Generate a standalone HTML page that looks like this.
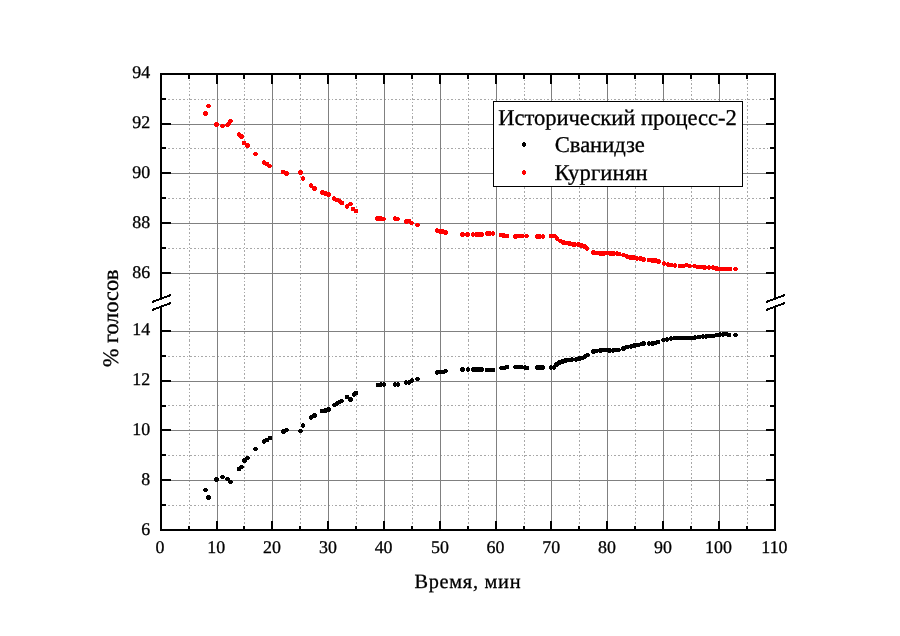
<!DOCTYPE html><html><head><meta charset="utf-8"><style>html,body{margin:0;padding:0;background:#fff;overflow:hidden;width:900px;height:636px}svg{display:block;will-change:transform}text{font-family:"Liberation Serif",serif;fill:#000;text-rendering:geometricPrecision;stroke:#000;stroke-width:0.3px}</style></head><body>
<svg width="900" height="636" viewBox="0 0 900 636">
<rect width="900" height="636" fill="#fff"/>
<g shape-rendering="crispEdges" stroke="#a8a8a8" stroke-width="1" stroke-dasharray="2.027 2.027 2.027 2.027 1.014 2.027" fill="none">
<line x1="189.5" y1="75" x2="189.5" y2="529" stroke-dashoffset="3.1"/>
<line x1="244.5" y1="75" x2="244.5" y2="529" stroke-dashoffset="3.1"/>
<line x1="300.5" y1="75" x2="300.5" y2="529" stroke-dashoffset="3.1"/>
<line x1="356.5" y1="75" x2="356.5" y2="529" stroke-dashoffset="3.1"/>
<line x1="412.5" y1="75" x2="412.5" y2="529" stroke-dashoffset="3.1"/>
<line x1="468.5" y1="75" x2="468.5" y2="529" stroke-dashoffset="3.1"/>
<line x1="524.5" y1="75" x2="524.5" y2="529" stroke-dashoffset="3.1"/>
<line x1="579.5" y1="75" x2="579.5" y2="529" stroke-dashoffset="3.1"/>
<line x1="635.5" y1="75" x2="635.5" y2="529" stroke-dashoffset="3.1"/>
<line x1="691.5" y1="75" x2="691.5" y2="529" stroke-dashoffset="3.1"/>
<line x1="747.5" y1="75" x2="747.5" y2="529" stroke-dashoffset="3.1"/>
<line x1="162" y1="99.5" x2="774" y2="99.5" stroke-dashoffset="5.26"/>
<line x1="162" y1="148.5" x2="774" y2="148.5" stroke-dashoffset="5.26"/>
<line x1="162" y1="198.5" x2="774" y2="198.5" stroke-dashoffset="5.26"/>
<line x1="162" y1="248.5" x2="774" y2="248.5" stroke-dashoffset="5.26"/>
<line x1="162" y1="356.5" x2="774" y2="356.5" stroke-dashoffset="5.26"/>
<line x1="162" y1="405.5" x2="774" y2="405.5" stroke-dashoffset="5.26"/>
<line x1="162" y1="455.5" x2="774" y2="455.5" stroke-dashoffset="5.26"/>
<line x1="162" y1="505.5" x2="774" y2="505.5" stroke-dashoffset="5.26"/>
</g>
<g shape-rendering="crispEdges" fill="#808080">
<rect x="217" y="75" width="1" height="454"/>
<rect x="272" y="75" width="1" height="454"/>
<rect x="328" y="75" width="1" height="454"/>
<rect x="384" y="75" width="1" height="454"/>
<rect x="440" y="75" width="1" height="454"/>
<rect x="496" y="75" width="1" height="454"/>
<rect x="551" y="75" width="1" height="454"/>
<rect x="607" y="75" width="1" height="454"/>
<rect x="663" y="75" width="1" height="454"/>
<rect x="719" y="75" width="1" height="454"/>
<rect x="162" y="124" width="612" height="1"/>
<rect x="162" y="173" width="612" height="1"/>
<rect x="162" y="223" width="612" height="1"/>
<rect x="162" y="273" width="612" height="1"/>
<rect x="162" y="331" width="612" height="1"/>
<rect x="162" y="381" width="612" height="1"/>
<rect x="162" y="430" width="612" height="1"/>
<rect x="162" y="480" width="612" height="1"/>
</g>
<g fill="#f00" shape-rendering="crispEdges"><circle cx="208.5" cy="106.0" r="2.4"/><circle cx="205.5" cy="113.5" r="2.4"/><circle cx="216.5" cy="124.5" r="2.4"/><circle cx="222.5" cy="126.0" r="2.4"/><circle cx="227.5" cy="125.0" r="2.4"/><circle cx="230.5" cy="121.0" r="2.4"/><circle cx="229.0" cy="123.5" r="2.4"/><circle cx="239.0" cy="134.5" r="2.4"/><circle cx="241.5" cy="136.5" r="2.4"/><circle cx="244.0" cy="143.0" r="2.4"/><circle cx="247.5" cy="145.5" r="2.4"/><circle cx="255.5" cy="154.0" r="2.4"/><circle cx="264.0" cy="162.5" r="2.4"/><circle cx="267.0" cy="164.0" r="2.4"/><circle cx="269.5" cy="166.0" r="2.4"/><circle cx="283.0" cy="172.0" r="2.4"/><circle cx="286.5" cy="173.5" r="2.4"/><circle cx="300.5" cy="172.5" r="2.4"/><circle cx="303.0" cy="178.5" r="2.4"/><circle cx="311.0" cy="185.5" r="2.4"/><circle cx="314.5" cy="188.5" r="2.4"/><circle cx="322.5" cy="192.5" r="2.4"/><circle cx="325.5" cy="193.5" r="2.4"/><circle cx="328.5" cy="194.5" r="2.4"/><circle cx="334.0" cy="198.5" r="2.4"/><circle cx="337.0" cy="200.0" r="2.4"/><circle cx="340.0" cy="201.5" r="2.4"/><circle cx="342.0" cy="203.0" r="2.4"/><circle cx="347.0" cy="206.5" r="2.4"/><circle cx="350.5" cy="204.0" r="2.4"/><circle cx="353.0" cy="209.0" r="2.4"/><circle cx="356.0" cy="211.0" r="2.4"/><circle cx="377.5" cy="218.5" r="2.4"/><circle cx="380.5" cy="218.5" r="2.4"/><circle cx="383.5" cy="219.0" r="2.4"/><circle cx="395.0" cy="218.5" r="2.4"/><circle cx="397.5" cy="219.0" r="2.4"/><circle cx="406.5" cy="221.5" r="2.4"/><circle cx="409.0" cy="221.0" r="2.4"/><circle cx="411.5" cy="223.0" r="2.4"/><circle cx="417.5" cy="225.0" r="2.4"/><circle cx="437.0" cy="230.5" r="2.4"/><circle cx="440.5" cy="231.5" r="2.4"/><circle cx="443.0" cy="231.5" r="2.4"/><circle cx="445.5" cy="232.5" r="2.4"/><circle cx="462.5" cy="234.5" r="2.4"/><circle cx="467.5" cy="234.5" r="2.4"/><circle cx="473.0" cy="234.5" r="2.4"/><circle cx="476.5" cy="234.5" r="2.4"/><circle cx="479.0" cy="234.5" r="2.4"/><circle cx="481.5" cy="234.5" r="2.4"/><circle cx="487.0" cy="233.5" r="2.4"/><circle cx="489.5" cy="233.5" r="2.4"/><circle cx="493.0" cy="233.5" r="2.4"/><circle cx="501.0" cy="235.0" r="2.4"/><circle cx="503.5" cy="235.5" r="2.4"/><circle cx="507.0" cy="236.0" r="2.4"/><circle cx="515.5" cy="236.5" r="2.4"/><circle cx="519.0" cy="236.0" r="2.4"/><circle cx="522.5" cy="236.0" r="2.4"/><circle cx="526.5" cy="236.0" r="2.4"/><circle cx="537.0" cy="236.5" r="2.4"/><circle cx="539.5" cy="236.5" r="2.4"/><circle cx="543.0" cy="236.5" r="2.4"/><circle cx="551.0" cy="236.0" r="2.4"/><circle cx="554.5" cy="236.0" r="2.4"/><circle cx="557.0" cy="238.5" r="2.4"/><circle cx="560.5" cy="241.0" r="2.4"/><circle cx="563.5" cy="242.5" r="2.4"/><circle cx="567.0" cy="243.0" r="2.4"/><circle cx="569.5" cy="243.5" r="2.4"/><circle cx="573.0" cy="244.5" r="2.4"/><circle cx="575.0" cy="244.5" r="2.4"/><circle cx="578.5" cy="244.5" r="2.4"/><circle cx="581.5" cy="245.5" r="2.4"/><circle cx="584.5" cy="246.5" r="2.4"/><circle cx="587.0" cy="248.5" r="2.4"/><circle cx="593.5" cy="252.5" r="2.4"/><circle cx="597.0" cy="253.0" r="2.4"/><circle cx="600.5" cy="253.5" r="2.4"/><circle cx="603.5" cy="253.5" r="2.4"/><circle cx="607.0" cy="253.0" r="2.4"/><circle cx="610.5" cy="253.5" r="2.4"/><circle cx="613.5" cy="253.5" r="2.4"/><circle cx="617.0" cy="253.5" r="2.4"/><circle cx="619.0" cy="254.0" r="2.4"/><circle cx="623.5" cy="255.0" r="2.4"/><circle cx="627.0" cy="256.5" r="2.4"/><circle cx="630.5" cy="257.5" r="2.4"/><circle cx="633.5" cy="257.5" r="2.4"/><circle cx="637.0" cy="258.5" r="2.4"/><circle cx="640.5" cy="258.5" r="2.4"/><circle cx="643.5" cy="259.5" r="2.4"/><circle cx="649.0" cy="260.0" r="2.4"/><circle cx="652.5" cy="260.5" r="2.4"/><circle cx="655.5" cy="260.5" r="2.4"/><circle cx="658.5" cy="261.5" r="2.4"/><circle cx="664.0" cy="263.5" r="2.4"/><circle cx="668.0" cy="264.5" r="2.4"/><circle cx="671.0" cy="265.0" r="2.4"/><circle cx="675.0" cy="265.5" r="2.4"/><circle cx="680.0" cy="266.0" r="2.4"/><circle cx="683.0" cy="266.0" r="2.4"/><circle cx="686.5" cy="265.0" r="2.4"/><circle cx="689.5" cy="266.0" r="2.4"/><circle cx="694.5" cy="266.0" r="2.4"/><circle cx="698.0" cy="267.0" r="2.4"/><circle cx="702.0" cy="267.0" r="2.4"/><circle cx="704.5" cy="267.5" r="2.4"/><circle cx="709.0" cy="267.5" r="2.4"/><circle cx="713.0" cy="267.5" r="2.4"/><circle cx="716.5" cy="268.5" r="2.4"/><circle cx="720.0" cy="269.0" r="2.4"/><circle cx="724.0" cy="269.0" r="2.4"/><circle cx="727.0" cy="269.0" r="2.4"/><circle cx="730.0" cy="269.0" r="2.4"/><circle cx="735.5" cy="269.0" r="2.4"/></g>
<g fill="#000" shape-rendering="crispEdges"><circle cx="205.5" cy="490.0" r="2.4"/><circle cx="208.5" cy="497.5" r="2.4"/><circle cx="216.5" cy="479.5" r="2.4"/><circle cx="222.5" cy="477.0" r="2.4"/><circle cx="227.5" cy="479.0" r="2.4"/><circle cx="230.5" cy="482.0" r="2.4"/><circle cx="239.0" cy="469.0" r="2.4"/><circle cx="241.5" cy="467.0" r="2.4"/><circle cx="244.5" cy="460.5" r="2.4"/><circle cx="247.5" cy="458.0" r="2.4"/><circle cx="255.5" cy="449.0" r="2.4"/><circle cx="264.0" cy="441.5" r="2.4"/><circle cx="267.0" cy="440.0" r="2.4"/><circle cx="270.0" cy="438.0" r="2.4"/><circle cx="283.5" cy="431.5" r="2.4"/><circle cx="286.5" cy="430.0" r="2.4"/><circle cx="300.5" cy="431.0" r="2.4"/><circle cx="303.0" cy="425.5" r="2.4"/><circle cx="311.0" cy="417.5" r="2.4"/><circle cx="314.5" cy="415.5" r="2.4"/><circle cx="322.0" cy="411.0" r="2.4"/><circle cx="325.5" cy="410.5" r="2.4"/><circle cx="328.5" cy="409.5" r="2.4"/><circle cx="334.5" cy="405.0" r="2.4"/><circle cx="337.0" cy="403.5" r="2.4"/><circle cx="339.5" cy="402.0" r="2.4"/><circle cx="341.5" cy="401.0" r="2.4"/><circle cx="347.0" cy="397.0" r="2.4"/><circle cx="350.5" cy="399.5" r="2.4"/><circle cx="354.0" cy="394.5" r="2.4"/><circle cx="356.0" cy="393.0" r="2.4"/><circle cx="378.0" cy="385.0" r="2.4"/><circle cx="381.0" cy="384.5" r="2.4"/><circle cx="384.0" cy="384.5" r="2.4"/><circle cx="395.0" cy="384.5" r="2.4"/><circle cx="398.0" cy="384.5" r="2.4"/><circle cx="406.0" cy="382.5" r="2.4"/><circle cx="409.0" cy="382.5" r="2.4"/><circle cx="412.0" cy="380.5" r="2.4"/><circle cx="417.5" cy="379.0" r="2.4"/><circle cx="437.0" cy="372.5" r="2.4"/><circle cx="440.0" cy="372.0" r="2.4"/><circle cx="443.0" cy="372.0" r="2.4"/><circle cx="445.5" cy="371.0" r="2.4"/><circle cx="462.5" cy="369.5" r="2.4"/><circle cx="468.0" cy="369.5" r="2.4"/><circle cx="473.5" cy="369.5" r="2.4"/><circle cx="476.5" cy="369.5" r="2.4"/><circle cx="479.5" cy="369.5" r="2.4"/><circle cx="482.0" cy="369.5" r="2.4"/><circle cx="487.0" cy="370.0" r="2.4"/><circle cx="490.0" cy="370.0" r="2.4"/><circle cx="493.0" cy="370.0" r="2.4"/><circle cx="501.5" cy="368.0" r="2.4"/><circle cx="504.5" cy="368.0" r="2.4"/><circle cx="507.0" cy="367.0" r="2.4"/><circle cx="515.5" cy="367.0" r="2.4"/><circle cx="518.5" cy="367.0" r="2.4"/><circle cx="521.5" cy="367.0" r="2.4"/><circle cx="525.0" cy="367.5" r="2.4"/><circle cx="527.0" cy="368.0" r="2.4"/><circle cx="537.5" cy="367.5" r="2.4"/><circle cx="540.5" cy="367.5" r="2.4"/><circle cx="543.0" cy="367.5" r="2.4"/><circle cx="551.0" cy="367.5" r="2.4"/><circle cx="554.0" cy="367.5" r="2.4"/><circle cx="556.5" cy="364.5" r="2.4"/><circle cx="559.5" cy="362.5" r="2.4"/><circle cx="562.5" cy="361.5" r="2.4"/><circle cx="565.5" cy="360.5" r="2.4"/><circle cx="569.0" cy="360.0" r="2.4"/><circle cx="572.0" cy="359.5" r="2.4"/><circle cx="576.0" cy="359.5" r="2.4"/><circle cx="579.5" cy="358.5" r="2.4"/><circle cx="582.5" cy="358.0" r="2.4"/><circle cx="585.0" cy="356.5" r="2.4"/><circle cx="587.5" cy="355.0" r="2.4"/><circle cx="593.5" cy="351.5" r="2.4"/><circle cx="596.5" cy="351.0" r="2.4"/><circle cx="600.5" cy="350.5" r="2.4"/><circle cx="603.5" cy="350.0" r="2.4"/><circle cx="606.5" cy="350.0" r="2.4"/><circle cx="609.5" cy="350.5" r="2.4"/><circle cx="613.0" cy="350.5" r="2.4"/><circle cx="616.0" cy="350.0" r="2.4"/><circle cx="618.5" cy="350.0" r="2.4"/><circle cx="623.5" cy="348.5" r="2.4"/><circle cx="627.0" cy="347.0" r="2.4"/><circle cx="631.0" cy="346.5" r="2.4"/><circle cx="634.5" cy="345.5" r="2.4"/><circle cx="638.0" cy="345.0" r="2.4"/><circle cx="641.5" cy="344.0" r="2.4"/><circle cx="643.5" cy="343.5" r="2.4"/><circle cx="649.0" cy="343.5" r="2.4"/><circle cx="652.5" cy="343.5" r="2.4"/><circle cx="655.5" cy="343.0" r="2.4"/><circle cx="658.0" cy="342.0" r="2.4"/><circle cx="663.5" cy="340.0" r="2.4"/><circle cx="667.0" cy="339.5" r="2.4"/><circle cx="671.0" cy="338.5" r="2.4"/><circle cx="675.0" cy="338.0" r="2.4"/><circle cx="678.0" cy="338.0" r="2.4"/><circle cx="681.0" cy="338.0" r="2.4"/><circle cx="685.0" cy="338.0" r="2.4"/><circle cx="689.0" cy="338.0" r="2.4"/><circle cx="692.0" cy="338.0" r="2.4"/><circle cx="695.0" cy="337.5" r="2.4"/><circle cx="699.0" cy="337.0" r="2.4"/><circle cx="703.0" cy="336.5" r="2.4"/><circle cx="706.0" cy="336.5" r="2.4"/><circle cx="709.0" cy="336.0" r="2.4"/><circle cx="713.0" cy="336.0" r="2.4"/><circle cx="717.0" cy="335.0" r="2.4"/><circle cx="720.0" cy="334.5" r="2.4"/><circle cx="723.0" cy="334.5" r="2.4"/><circle cx="726.0" cy="334.0" r="2.4"/><circle cx="729.0" cy="335.0" r="2.4"/><circle cx="735.5" cy="335.0" r="2.4"/></g>
<g shape-rendering="crispEdges" fill="#000">
<rect x="160" y="73" width="616" height="2"/>
<rect x="160" y="529" width="616" height="2"/>
<rect x="160" y="73" width="2" height="225"/>
<rect x="160" y="306" width="2" height="225"/>
<rect x="774" y="73" width="2" height="225"/>
<rect x="774" y="306" width="2" height="225"/>
<rect x="216" y="75" width="2" height="9"/>
<rect x="216" y="521" width="2" height="8"/>
<rect x="271" y="75" width="2" height="9"/>
<rect x="271" y="521" width="2" height="8"/>
<rect x="327" y="75" width="2" height="9"/>
<rect x="327" y="521" width="2" height="8"/>
<rect x="383" y="75" width="2" height="9"/>
<rect x="383" y="521" width="2" height="8"/>
<rect x="439" y="75" width="2" height="9"/>
<rect x="439" y="521" width="2" height="8"/>
<rect x="495" y="75" width="2" height="9"/>
<rect x="495" y="521" width="2" height="8"/>
<rect x="550" y="75" width="2" height="9"/>
<rect x="550" y="521" width="2" height="8"/>
<rect x="606" y="75" width="2" height="9"/>
<rect x="606" y="521" width="2" height="8"/>
<rect x="662" y="75" width="2" height="9"/>
<rect x="662" y="521" width="2" height="8"/>
<rect x="718" y="75" width="2" height="9"/>
<rect x="718" y="521" width="2" height="8"/>
<rect x="188" y="75" width="2" height="4"/>
<rect x="188" y="526" width="2" height="3"/>
<rect x="243" y="75" width="2" height="4"/>
<rect x="243" y="526" width="2" height="3"/>
<rect x="299" y="75" width="2" height="4"/>
<rect x="299" y="526" width="2" height="3"/>
<rect x="355" y="75" width="2" height="4"/>
<rect x="355" y="526" width="2" height="3"/>
<rect x="411" y="75" width="2" height="4"/>
<rect x="411" y="526" width="2" height="3"/>
<rect x="467" y="75" width="2" height="4"/>
<rect x="467" y="526" width="2" height="3"/>
<rect x="523" y="75" width="2" height="4"/>
<rect x="523" y="526" width="2" height="3"/>
<rect x="578" y="75" width="2" height="4"/>
<rect x="578" y="526" width="2" height="3"/>
<rect x="634" y="75" width="2" height="4"/>
<rect x="634" y="526" width="2" height="3"/>
<rect x="690" y="75" width="2" height="4"/>
<rect x="690" y="526" width="2" height="3"/>
<rect x="746" y="75" width="2" height="4"/>
<rect x="746" y="526" width="2" height="3"/>
<rect x="162" y="123" width="9" height="2"/>
<rect x="766" y="123" width="8" height="2"/>
<rect x="162" y="172" width="9" height="2"/>
<rect x="766" y="172" width="8" height="2"/>
<rect x="162" y="222" width="9" height="2"/>
<rect x="766" y="222" width="8" height="2"/>
<rect x="162" y="272" width="9" height="2"/>
<rect x="766" y="272" width="8" height="2"/>
<rect x="162" y="330" width="9" height="2"/>
<rect x="766" y="330" width="8" height="2"/>
<rect x="162" y="380" width="9" height="2"/>
<rect x="766" y="380" width="8" height="2"/>
<rect x="162" y="429" width="9" height="2"/>
<rect x="766" y="429" width="8" height="2"/>
<rect x="162" y="479" width="9" height="2"/>
<rect x="766" y="479" width="8" height="2"/>
<rect x="162" y="98" width="4" height="2"/>
<rect x="770" y="98" width="4" height="2"/>
<rect x="162" y="147" width="4" height="2"/>
<rect x="770" y="147" width="4" height="2"/>
<rect x="162" y="197" width="4" height="2"/>
<rect x="770" y="197" width="4" height="2"/>
<rect x="162" y="247" width="4" height="2"/>
<rect x="770" y="247" width="4" height="2"/>
<rect x="162" y="355" width="4" height="2"/>
<rect x="770" y="355" width="4" height="2"/>
<rect x="162" y="405" width="4" height="2"/>
<rect x="770" y="405" width="4" height="2"/>
<rect x="162" y="454" width="4" height="2"/>
<rect x="770" y="454" width="4" height="2"/>
<rect x="162" y="504" width="4" height="2"/>
<rect x="770" y="504" width="4" height="2"/>
</g>
<g stroke="#000" stroke-width="2" shape-rendering="crispEdges" fill="none">
<line x1="152" y1="302" x2="171" y2="295"/>
<line x1="152" y1="310" x2="171" y2="303"/>
<line x1="766" y1="302" x2="785" y2="295"/>
<line x1="766" y1="310" x2="785" y2="303"/>
</g>
<g font-size="17.9" text-anchor="end">
<text x="150.2" y="77.7">94</text>
<text x="150.2" y="127.7">92</text>
<text x="150.2" y="177.7">90</text>
<text x="150.2" y="227.7">88</text>
<text x="150.2" y="277.7">86</text>
<text x="150.2" y="334.7">14</text>
<text x="150.2" y="384.7">12</text>
<text x="150.2" y="434.7">10</text>
<text x="150.2" y="484.7">8</text>
<text x="150.2" y="534.7">6</text>
</g>
<g font-size="17.9" text-anchor="middle">
<text x="159.95" y="552.75">0</text>
<text x="216.2" y="552.75">10</text>
<text x="272.05" y="552.75">20</text>
<text x="328.01" y="552.75">30</text>
<text x="383.62" y="552.75">40</text>
<text x="439.92" y="552.75">50</text>
<text x="495.51" y="552.75">60</text>
<text x="551.3" y="552.75">70</text>
<text x="606.9" y="552.75">80</text>
<text x="663.0" y="552.75">90</text>
<text x="718.45" y="552.75">100</text>
<text x="774.45" y="552.75">110</text>
</g>
<text x="414.4" y="588" font-size="20.3" textLength="106.1" lengthAdjust="spacing">Время, мин</text>
<text transform="translate(118.3,367.06) rotate(-90)" font-size="22.2">% голосов</text>
<rect x="493.5" y="101.5" width="249" height="85" fill="#fff" stroke="#000" stroke-width="1" shape-rendering="crispEdges"/>
<text x="498.25" y="125" font-size="22.6" textLength="238.5" lengthAdjust="spacing">Исторический процесс-2</text>
<circle cx="524" cy="144.5" r="2.4" fill="#000" shape-rendering="crispEdges"/>
<circle cx="524" cy="172.5" r="2.4" fill="#f00" shape-rendering="crispEdges"/>
<text x="554.77" y="151.8" font-size="22.6" textLength="90.1" lengthAdjust="spacing">Сванидзе</text>
<text x="554.45" y="179.9" font-size="22.6" textLength="93.1" lengthAdjust="spacing">Кургинян</text>
</svg></body></html>
